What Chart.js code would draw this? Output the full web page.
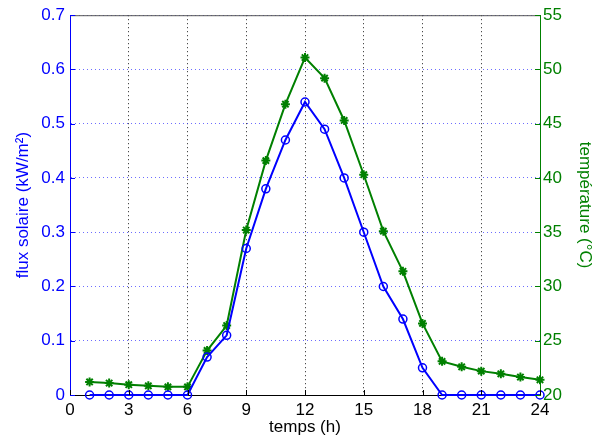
<!DOCTYPE html>
<html>
<head>
<meta charset="utf-8">
<script src="https://cdn.jsdelivr.net/npm/chart.js@4/dist/chart.umd.min.js"></script>
<style>
  html, body { margin: 0; padding: 0; background: #fff; }
</style>
</head>
<body>
<canvas id="fluxChart" width="602" height="446"></canvas>
<script>
const hours = [1, 2, 3, 4, 5, 6, 7, 8, 9, 10, 11, 12, 13, 14, 15, 16, 17, 18, 19, 20, 21, 22, 23, 24];
// solar flux (kW/m2)
const flux = [0, 0, 0, 0, 0, 0, 0.07, 0.11, 0.27, 0.38, 0.47, 0.54, 0.49, 0.40, 0.30, 0.20, 0.14, 0.05, 0, 0, 0, 0, 0, 0];
// temperature (°C)
const temperature = [21.2, 21.1, 20.95, 20.85, 20.75, 20.75, 24.1, 26.4, 35.2, 41.6, 46.8, 51.1, 49.2, 45.3, 40.3, 35.1, 31.4, 26.6, 23.1, 22.6, 22.2, 21.95, 21.65, 21.4];

const xTicks = [0, 3, 6, 9, 12, 15, 18, 21, 24];

const BLUE = '#0000ff';
const GREEN = '#008000';
const FONT = 'Liberation Sans, Arial, sans-serif';

// top edge of the box + inward tick marks, MATLAB-ish
const boxPlugin = {
    id: 'box',
    afterDraw(chart) {
        const { ctx, chartArea: a, scales } = chart;
        ctx.save();
        ctx.lineWidth = 1;
        ctx.strokeStyle = '#555555';
        ctx.beginPath();
        ctx.moveTo(a.left, a.top + 0.5);
        ctx.lineTo(a.right, a.top + 0.5);
        ctx.stroke();

        // x ticks (bottom, pointing up)
        ctx.strokeStyle = '#000';
        scales.x.ticks.forEach(t => {
            const px = Math.round(scales.x.getPixelForValue(t.value)) + 0.5;
            ctx.beginPath();
            ctx.moveTo(px, a.bottom);
            ctx.lineTo(px, a.bottom - 5);
            ctx.stroke();
        });
        // left ticks
        ctx.strokeStyle = BLUE;
        scales.y.ticks.forEach(t => {
            const py = Math.round(scales.y.getPixelForValue(t.value)) + 0.5;
            ctx.beginPath();
            ctx.moveTo(a.left, py);
            ctx.lineTo(a.left + 5, py);
            ctx.stroke();
        });
        // right ticks
        ctx.strokeStyle = GREEN;
        scales.y1.ticks.forEach(t => {
            const py = Math.round(scales.y1.getPixelForValue(t.value)) + 0.5;
            ctx.beginPath();
            ctx.moveTo(a.right, py);
            ctx.lineTo(a.right - 5, py);
            ctx.stroke();
        });
        ctx.restore();
    }
};

const ctx = document.getElementById('fluxChart').getContext('2d');
const fluxChart = new Chart(ctx, {
    type: 'line',
    data: {
        datasets: [
            {
                label: 'flux solaire',
                data: hours.map((h, i) => ({ x: h, y: flux[i] })),
                yAxisID: 'y',
                borderColor: BLUE,
                backgroundColor: 'rgba(0,0,0,0)',
                borderWidth: 2,
                pointStyle: 'circle',
                pointRadius: 4,
                pointBorderWidth: 1.5,
                pointBorderColor: BLUE,
                pointBackgroundColor: 'rgba(0,0,0,0)',
                tension: 0,
                clip: false
            },
            {
                label: 'température',
                data: hours.map((h, i) => ({ x: h, y: temperature[i] })),
                yAxisID: 'y1',
                borderColor: GREEN,
                backgroundColor: GREEN,
                borderWidth: 2,
                pointStyle: 'star',
                pointRadius: 4.5,
                pointBorderWidth: 2,
                pointBorderColor: GREEN,
                tension: 0,
                clip: false
            }
        ]
    },
    options: {
        responsive: false,
        animation: false,
        layout: { padding: { top: 14, left: 0, right: 0, bottom: 0 } },
        plugins: {
            legend: { display: false },
            tooltip: { enabled: false }
        },
        scales: {
            x: {
                type: 'linear',
                min: 0,
                max: 24,
                afterBuildTicks: s => { s.ticks = xTicks.map(v => ({ value: v })); },
                afterFit: s => { s.height = 51; },
                grid: {
                    color: '#222222',
                    lineWidth: 1,
                    drawTicks: false
                },
                border: { color: '#000', width: 1, dash: [1, 3] },
                ticks: {
                    color: '#000',
                    padding: 5,
                    maxRotation: 0,
                    font: { family: FONT, size: 17 }
                },
                title: {
                    display: true,
                    text: 'temps (h)',
                    color: '#000',
                    padding: { top: 0, bottom: 8 },
                    font: { family: FONT, size: 17 }
                }
            },
            y: {
                type: 'linear',
                position: 'left',
                min: 0,
                max: 0.7,
                afterFit: s => { s.width = 70; },
                grid: {
                    color: 'rgba(60,60,255,0.75)',
                    lineWidth: 1,
                    drawTicks: false
                },
                border: { color: BLUE, width: 1, dash: [1, 3] },
                ticks: {
                    stepSize: 0.1,
                    color: BLUE,
                    padding: 5,
                    font: { family: FONT, size: 17 },
                    callback: v => (v === 0 ? '0' : v.toFixed(1))
                },
                title: {
                    display: true,
                    text: 'flux solaire (kW/m²)',
                    color: BLUE,
                    padding: { top: 13, bottom: 0 },
                    font: { family: FONT, size: 17 }
                }
            },
            y1: {
                type: 'linear',
                position: 'right',
                min: 20,
                max: 55,
                afterFit: s => { s.width = 62; },
                grid: { display: false, drawTicks: false },
                border: { color: GREEN, width: 1 },
                ticks: {
                    stepSize: 5,
                    color: GREEN,
                    padding: 3,
                    font: { family: FONT, size: 17 }
                },
                title: {
                    display: true,
                    text: 'température (°C)',
                    color: GREEN,
                    padding: { top: 7, bottom: 0 },
                    font: { family: FONT, size: 17 }
                }
            }
        }
    },
    plugins: [boxPlugin]
});
</script>
</body>
</html>
